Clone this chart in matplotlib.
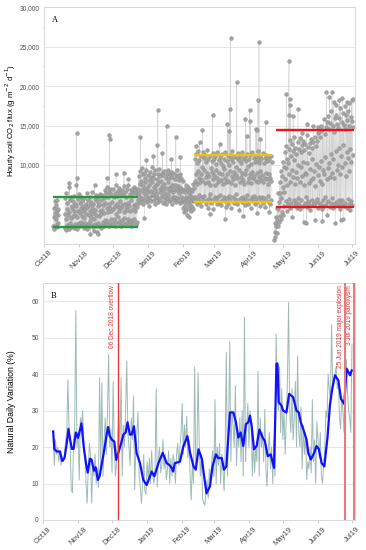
import numpy as np
import matplotlib
matplotlib.use('Agg')
import matplotlib.pyplot as plt
import matplotlib.dates as mdates

plt.rcParams['font.family'] = ['Liberation Sans', 'DejaVu Sans']

# day numbers below count from 1 Oct 2018
origin = np.datetime64('2018-10-01')
month_ticks = ['2018-10-01', '2018-11-01', '2018-12-01', '2019-01-01', '2019-02-01',
               '2019-03-01', '2019-04-01', '2019-05-01', '2019-06-01', '2019-07-01']
month_labels = ['Oct18', 'Nov18', 'Dec18', 'Jan19', 'Feb19', 'Mar19', 'Apr19',
                'May19', 'Jun19', 'Jul19']

# ---- panel A: hourly soil CO2 flux, daily low / mid / high readings (x1000 g m-2 d-1)
run1_first = 8
run1_lo = [2.3, 1.9, 2.4, 2.1, 2.6]
run1_mid = [3.4, 3.9, 3.1, 4.2, 3.6]
run1_hi = [4.6, 5.4, 4.9, 5.6, 4.4]

run2_first = 18
run2_lo = ([2.0, 1.8, 2.4, 2.2, 1.9, 2.6, 2.1, 2.3, 2.0, 2.5, 2.2, 1.9, 2.4]
           + [2.6, 2.2, 2.8, 2.4, 2.0, 2.7, 2.3, 1.9, 2.5, 2.2,
              2.9, 2.4, 2.1, 1.6, 2.5, 2.2, 1.5, 2.6, 2.3, 2.0]
           + [2.4, 2.8, 2.2, 3.0, 2.5, 2.9, 2.3, 2.7, 3.2, 2.4,
              2.6, 3.1, 2.2, 2.8, 3.4, 2.5, 2.9, 2.3, 3.0, 2.6,
              3.3, 2.4, 2.8, 3.1, 2.5, 2.9, 2.2, 3.0, 2.7, 3.2, 2.4, 2.8]
           + [5.6, 5.2, 6.0, 5.4, 5.8, 5.0, 5.5, 6.1, 5.3, 5.7,
              4.8, 5.9, 5.4, 6.2, 5.6, 5.1, 5.8, 6.0, 5.3, 5.7,
              5.5, 6.1, 5.2, 5.9, 5.6, 5.0, 5.8, 6.2, 5.4, 5.7,
              5.1, 5.9, 5.5, 6.0, 5.3, 5.8, 5.6, 5.2, 5.9, 5.4]
           + [4.6, 4.0, 4.8, 4.3, 3.6, 4.5, 4.9, 4.2, 4.7, 4.4]
           + [5.4, 6.0, 5.0, 5.7, 6.2, 5.3, 4.8, 5.9, 5.5, 6.1,
              5.1, 5.6, 4.6, 5.8, 6.3, 5.2, 5.5, 4.4, 6.0, 5.7,
              5.0, 5.9, 5.3, 6.2, 4.9, 5.6, 6.0, 5.4, 4.7, 5.8,
              5.1, 6.1, 5.5, 4.5, 5.9, 5.2, 5.7, 6.3, 5.0, 5.6,
              4.3, 5.8, 5.3, 6.0, 5.5, 4.9, 5.7, 6.2, 5.1, 5.6,
              4.6, 5.9, 5.4, 6.1, 5.0, 5.7, 5.3, 6.0, 4.8, 5.5,
              5.9, 5.2, 5.8, 4.7, 5.6, 6.1, 5.3, 5.0, 5.6])
run2_mid = ([3.8, 3.2, 4.4, 3.6, 4.0, 3.3, 4.6, 3.5, 4.1, 3.7, 4.8, 3.4, 4.2]
            + [3.9, 4.5, 3.5, 4.1, 3.3, 4.4, 3.8, 4.7, 3.6, 4.2,
               3.4, 4.6, 3.9, 3.2, 4.3, 3.7, 4.8, 3.5, 4.1, 3.8]
            + [4.3, 4.9, 3.9, 5.2, 4.5, 4.0, 5.0, 4.6, 4.2, 5.3,
               4.4, 4.8, 3.8, 5.1, 4.7, 4.1, 5.4, 4.5, 4.9, 4.0,
               5.0, 4.6, 4.3, 5.2, 4.8, 4.1, 5.5, 4.4, 4.9, 4.2, 5.1, 4.7]
            + [7.0, 6.5, 7.6, 6.8, 7.3, 6.4, 7.8, 6.9, 7.1, 6.6,
               7.5, 6.7, 7.9, 6.3, 7.2, 6.8, 7.4, 6.5, 7.7, 7.0,
               6.6, 7.3, 6.9, 7.6, 6.4, 7.1, 7.8, 6.7, 7.2, 6.9,
               7.5, 6.6, 7.0, 7.4, 6.8, 7.3, 6.5, 7.1, 6.9, 6.7]
            + [5.7, 5.3, 6.0, 5.5, 5.2, 5.8, 6.1, 5.4, 5.9, 5.6]
            + [8.0, 8.8, 7.6, 9.2, 8.3, 7.8, 8.9, 8.1, 9.4, 7.7,
               8.5, 9.0, 7.9, 8.6, 7.4, 9.1, 8.2, 8.7, 7.5, 9.3,
               8.4, 7.8, 9.0, 8.1, 8.8, 7.6, 9.5, 8.3, 7.9, 8.9,
               8.0, 9.2, 7.7, 8.6, 8.2, 9.1, 7.5, 8.7, 8.4, 9.4,
               7.8, 8.5, 9.0, 8.1, 7.6, 8.8, 9.3, 7.9, 8.4, 8.9,
               7.7, 9.1, 8.3, 8.6, 8.0, 9.0, 7.8, 8.5, 9.2, 8.1,
               8.7, 7.9, 8.4, 9.0, 8.2, 7.6, 8.8, 8.3, 8.0])
run2_hi = ([5.8, 6.4, 5.2, 7.2, 5.6, 6.0, 4.8, 5.4, 6.1, 5.0, 7.4, 5.7, 6.3]
           + [5.2, 6.0, 5.4, 4.8, 5.8, 5.1, 6.4, 5.5, 4.9, 5.9,
              5.3, 6.6, 5.0, 5.7, 6.2, 5.4, 5.9, 5.0, 6.3, 5.6]
           + [6.2, 5.8, 6.8, 6.4, 7.2, 6.0, 6.6, 7.0, 6.3, 6.9,
              5.9, 6.5, 7.4, 6.1, 6.7, 7.1, 6.4, 6.8, 6.2, 7.3,
              6.6, 6.0, 6.9, 7.5, 6.3, 6.8, 7.0, 6.4, 7.2, 6.6, 6.9, 6.3]
           + [8.6, 9.2, 8.0, 9.6, 8.8, 9.0, 8.3, 9.4, 8.7, 8.1,
              9.1, 8.5, 9.7, 8.4, 8.9, 9.3, 8.2, 8.8, 9.5, 8.6,
              8.0, 9.0, 8.7, 9.2, 8.4, 8.9, 9.4, 8.3, 8.8, 9.1,
              8.5, 9.0, 8.2, 8.7, 9.3, 8.6, 8.1, 8.9, 8.4, 8.0]
           + [7.0, 6.6, 7.4, 6.8, 7.2, 6.5, 7.0, 6.7, 7.6, 7.1]
           + [10.8, 11.4, 10.2, 11.8, 10.6, 11.2, 9.8, 11.6, 10.9, 11.3,
              10.4, 11.9, 10.7, 11.1, 9.6, 10.5, 11.5, 10.8, 11.2, 10.1,
              11.7, 10.6, 11.0, 10.3, 11.4, 9.9, 10.8, 11.6, 10.5, 11.1,
              10.0, 11.3, 10.7, 11.8, 10.4, 11.0, 9.7, 10.9, 11.5, 10.6,
              11.2, 10.2, 11.7, 10.8, 11.0, 10.5, 11.4, 9.9, 10.7, 11.3,
              10.1, 11.6, 10.9, 10.4, 11.1, 10.6, 11.8, 10.3, 11.0, 10.8,
              11.5, 10.2, 10.9, 11.3, 10.5, 11.0, 10.7, 11.2, 10.4])

run3_first = 204
run3_lo = [0.5, 0.9, 1.4, 2.2, 2.8, 3.5, 3.2, 4.0, 3.6,
           4.8, 5.4, 4.2, 5.0, 5.7, 4.5, 5.2, 3.4, 5.6, 4.9,
           5.3, 4.6, 5.8, 5.1, 4.4, 5.5, 4.8, 2.8, 5.2, 5.9,
           4.7, 5.4, 5.0, 4.3, 5.6, 5.1, 4.9, 3.0, 5.3, 5.7,
           4.6, 5.2, 5.0, 4.4, 5.5, 4.8, 5.9, 5.1, 3.6, 5.4,
           4.7, 5.2, 5.8, 4.5, 5.0, 2.6, 5.3, 4.9, 5.6, 4.4,
           5.1, 5.5, 3.2, 4.8, 5.2, 4.6, 5.7, 5.0, 4.3, 5.4, 4.9]
run3_mid = [1.5, 2.2, 3.0, 4.4, 5.3, 6.4, 5.8, 7.2, 6.6,
            8.2, 9.6, 7.4, 10.2, 8.8, 7.9, 9.4, 8.5, 10.6, 7.6,
            9.1, 8.3, 10.0, 7.8, 9.7, 8.6, 10.4, 7.5, 9.0, 8.9,
            10.3, 7.7, 9.5, 8.1, 10.8, 8.4, 9.2, 7.3, 10.1, 8.7,
            9.8, 8.0, 10.5, 7.6, 9.3, 8.8, 11.0, 8.2, 9.6, 10.2,
            8.5, 11.4, 9.0, 10.7, 8.3, 11.8, 9.4, 10.0, 12.2, 8.9,
            11.1, 9.7, 12.5, 10.3, 8.6, 11.6, 10.9, 9.2, 12.0, 10.4, 11.3]
run3_hi = [2.6, 3.4, 4.6, 6.5, 7.8, 9.2, 8.6, 10.4, 9.8,
           11.6, 12.4, 10.8, 12.0, 13.2, 11.2, 12.6, 11.8, 13.6, 12.2,
           11.4, 12.9, 12.0, 13.4, 11.6, 12.5, 13.0, 11.9, 12.7, 13.8,
           12.3, 11.5, 12.8, 13.3, 12.1, 12.9, 13.6, 12.4, 13.1, 14.0,
           14.2, 13.6, 15.0, 14.4, 15.8, 13.9, 14.8, 15.5, 16.2, 14.6,
           15.3, 16.8, 15.0, 14.2, 15.9, 16.4, 15.2, 14.7, 16.0, 17.2,
           15.4, 16.6, 15.1, 14.5, 16.3, 15.7, 16.9, 15.0, 16.1, 15.6, 14.8]

# isolated high / low hourly readings
peak_day = [22.6, 28.9, 29.3, 44, 55, 57.9, 58.1, 63, 70, 74, 40, 47,
            85.5, 88, 90, 96, 100, 100.3, 104, 108, 112, 116, 120,
            128, 134, 137, 140.5, 146, 149.4, 155, 160, 162.5, 163, 164.6, 165.5,
            170, 176, 178.6, 179, 182.2, 182.8, 187, 188, 188.5, 189.7, 190.6,
            191, 196.5, 199,
            214.8, 216, 217.2, 217.8, 218.2, 220, 225.2, 228, 232, 232.5, 238,
            242, 246, 250.3, 252, 255.3, 256, 258, 261, 262, 264.5, 266, 268.5,
            270.5, 272, 273]
peak_val = [7.7, 14.0, 8.3, 7.5, 8.4, 13.8, 13.3, 8.9, 9.0, 8.2, 1.2, 1.3,
            13.5, 3.3, 10.6, 11.2, 17.0, 12.5, 11.5, 15.0, 10.8, 13.5, 11.0,
            3.4, 12.4, 12.9, 14.4, 3.8, 16.35, 12.6, 3.2, 15.2, 14.3, 17.15, 26.15,
            20.5, 3.5, 15.85, 13.7, 17.0, 15.6, 14.6, 3.9, 14.4, 18.3, 25.65,
            13.3, 15.4, 4.0,
            19.05, 16.3, 23.24, 18.4, 17.56, 16.2, 17.1, 14.0, 15.2, 2.6, 15.0,
            14.8, 2.9, 19.3, 18.6, 19.2, 18.0, 17.6, 18.2, 3.0, 18.5, 17.5, 18.0,
            17.8, 18.3, 18.4]

# period bands drawn over panel A
band_start = [8, 133, 206]
band_end = [83, 202, 274.6]
band_low = [2.1, 5.34, 4.71]
band_high = [5.9, 11.3, 14.44]
band_color = ['#1f9d3c', '#f4c20d', '#e8161b']

# ---- panel B: natural daily variation (%), daily values from day 9
nat_first = 9
nat_var = [24, 15, 22, 18, 20, 16, 19, 15, 17, 16,
           18, 22, 24, 38.5, 25, 20, 8.3, 7.5, 21, 26,
           57.4, 20, 24, 11, 28, 26, 30, 22, 18, 10,
           4.6, 14, 21, 18, 4.6, 15, 12, 18, 10, 14,
           9, 39, 14, 37.6, 12, 22, 28, 18, 30, 45.4,
           20, 25, 13, 38, 20, 12, 16, 22, 30, 20,
           39, 12, 26, 20, 30, 43.6, 24, 20, 15, 28,
           22, 34, 8.3, 20, 24, 29.5, 12, 9, 4.6, 10,
           18, 8, 7, 16, 11, 17, 10, 19, 12, 10,
           14, 36, 9, 17, 20, 13, 15, 22, 14, 18,
           11, 14, 19, 10, 17, 12, 18, 16, 10, 18,
           21, 15, 20, 24, 32, 18, 26, 20, 28.5, 17,
           22, 12, 5.5, 16, 10, 42, 14, 18, 40.4, 22,
           12, 18, 6, 4.6, 4.1, 8, 11, 6, 14, 10,
           16, 19, 12, 33, 10, 20, 15, 21, 10, 18,
           14, 8, 20, 46, 12, 25, 48.9, 16, 30, 26,
           20, 36.9, 15, 25, 20, 28, 16, 30, 12, 55.6,
           16, 25, 32, 20, 30, 26, 12, 22, 13, 20,
           16, 40.8, 12, 28, 20, 24, 16, 30.3, 14, 9.2,
           19, 24, 14, 20, 10, 22, 12, 51, 36, 30,
           42, 24, 36, 22, 30, 18, 28, 38, 59.6, 30,
           24, 36, 22, 28, 38, 20, 45, 24, 20, 31,
           14, 26, 18, 24, 11, 16, 14, 20, 13, 33,
           16, 22, 10, 27, 22, 17, 24, 12, 10, 15,
           20, 30, 28, 40, 36, 32, 53.5, 36, 38, 40,
           42, 36, 38, 28, 25, 34, 30, 24, 38, 44,
           36, 30, 28, 24, 48]

# running mean (blue)
avg_day = [9, 10, 12, 15, 17, 19, 21, 22.5, 24, 25.5, 27, 29, 31, 34, 36, 38, 39.5,
           41.5, 43, 45, 46.5, 48.5, 50, 52, 54, 56, 57.5, 59, 61, 63, 64.7, 66.5,
           69, 71, 73, 74.7, 76.8, 78.5, 80.4, 82.7, 85.7, 88.6, 91.6, 94, 96, 98.4,
           102, 105.8, 109.3, 112, 113.8, 115, 116.5, 121, 124, 127.6, 130, 133, 135,
           137.4, 139, 140.5, 141.6, 144.5, 147.5, 149.8, 152.8, 154.8, 158, 159.9,
           162, 165.2, 168.2, 170.5, 172.6, 174.6, 177, 179.3, 181.4, 182.9, 184.4,
           186.4, 188.8, 191.2, 194.1, 196, 198.6, 201.2, 204.2, 206.3, 207.2, 208.3,
           210.7, 212.2, 215.1, 217.5, 221, 224, 226, 227.8, 230, 232.9, 234.4,
           236.7, 239.6, 241.7, 243.8, 246.2, 248.6, 251.5, 253.5, 255.6, 258, 261,
           263.3, 266.2, 268.3, 271.3, 272.8]
avg_val = [24.3, 19.5, 18.8, 18.8, 16.2, 17, 21, 25, 22, 19.5, 19.5, 24, 22.5, 26.5,
           20, 15.5, 13, 16.8, 16.5, 13.5, 14.5, 11, 12, 15.5, 19, 23, 25.5, 23, 22,
           21.5, 16.5, 18.3, 21, 23.4, 24, 26.8, 23.4, 23.5, 25.7, 18.4, 15.6, 11,
           9.6, 11.5, 13.3, 12, 15.6, 18.4, 15.6, 15, 14.2, 13.3, 15.6, 16, 20.2, 23,
           18.4, 14.7, 13.8, 19.4, 18, 16.6, 13.8, 7.3, 9.2, 14.7, 18, 17, 17, 13.8,
           14.7, 29.5, 29.5, 26.8, 22.6, 24, 20.3, 26.3, 26.8, 28.6, 25.8, 19.4,
           20.3, 24.8, 22.6, 21.7, 17.5, 18, 14.3, 42.9, 42.9, 32.3, 31.4, 30, 29.5,
           34.6, 33.7, 30, 29.5, 26.8, 24.9, 22, 18.4, 16.6, 18.4, 20.3, 19.4, 15.6,
           14.7, 23, 31.4, 36, 39.7, 38.3, 33.2, 31.8, 41.5, 39.7, 41]

event_dates = ['2018-12-06', '2019-06-25', '2019-07-03']
event_labels = ['06 Dec 2018 overflow', '25 Jun 2019 major explosion', '3 Jul 2019 paroxysm']
event_color = ['#e8383b', '#e77a7a', '#e77a7a']
event_lw = [1.0, 1.5, 1.5]


def flux_run(first, lo, mid, hi):
    t, v = [], []
    for i in range(len(lo)):
        d = first + i
        t += [d + 0.2, d + 0.5, d + 0.8]
        v += [lo[i], mid[i], hi[i]]
    for pday, pval in zip(peak_day, peak_val):
        if first <= pday < first + len(lo):
            t.append(pday + 0.85 if pday == int(pday) else pday)
            v.append(pval)
    order = np.argsort(t)
    return np.array(t)[order], np.array(v)[order] * 1000


day0 = mdates.date2num(origin)
xmin, xmax = day0, day0 + 275.7
tick_pos = [mdates.date2num(np.datetime64(m)) for m in month_ticks]
W, H = 366, 550
fig = plt.figure(figsize=(W / 100, H / 100), dpi=100)

axA = fig.add_axes([44 / W, 1 - 243.8 / H, (355 - 44) / W, (243.8 - 7.3) / H])
axB = fig.add_axes([43 / W, 1 - 520 / H, (355 - 43) / W, (520 - 283) / H])

for run in [(run1_first, run1_lo, run1_mid, run1_hi),
            (run2_first, run2_lo, run2_mid, run2_hi),
            (run3_first, run3_lo, run3_mid, run3_hi)]:
    t, v = flux_run(*run)
    axA.plot(day0 + t, v, '-o', color='#d3d3d3', lw=0.4, ms=2.7,
             mfc='#a3a3a3', mec='#888888', mew=0.3, zorder=2)

for s, e, lo, hi, c in zip(band_start, band_end, band_low, band_high, band_color):
    axA.hlines([lo * 1000, hi * 1000], day0 + s, day0 + e, colors=c, lw=1.7, zorder=3)

axA.set_ylim(0, 30000)
axA.set_yticks([10000, 15000, 20000, 25000, 30000])
axA.set_yticklabels(['10,000', '15,000', '20,000', '25,000', '30,000'])
axA.set_yticks([12500, 17500, 22500, 27500], minor=True)
axA.set_ylabel('Hourly soil CO$_2$ flux (g m$^{-2}$ d$^{-1}$)', fontsize=5.6)
axA.yaxis.set_label_coords(-0.082, 0.52)
axA.text(0.025, 0.945, 'A', transform=axA.transAxes, fontsize=6,
         family='Liberation Serif', va='center')

axB.plot(day0 + nat_first + np.arange(len(nat_var)), nat_var, color='#9dbab6', lw=0.7, zorder=2)
axB.plot(day0 + np.array(avg_day), avg_val, color='#1010ff', lw=1.6, zorder=3)
for d, lab, c, lw in zip(event_dates, event_labels, event_color, event_lw):
    xd = mdates.date2num(np.datetime64(d))
    axB.axvline(xd, color=c, lw=lw, zorder=4)
    axB.text(xd - 1.3, 64.3, lab, rotation=90, ha='right', va='top', fontsize=4.7,
             color='#d9363a')
axB.set_ylim(0, 65)
axB.set_yticks(range(0, 61, 10))
axB.set_ylabel('Natural Daily Variation (%)', fontsize=6.3)
axB.yaxis.set_label_coords(-0.088, 0.5)
axB.text(0.025, 0.945, 'B', transform=axB.transAxes, fontsize=6,
         family='Liberation Serif', va='center')

for ax in (axA, axB):
    ax.set_xlim(xmin, xmax)
    ax.set_xticks(tick_pos)
    ax.set_xticklabels(month_labels, rotation=45, ha='center', fontsize=5.5, color='#444444')
    ax.grid(axis='y', color='#e3e3e3', lw=0.6, zorder=0)
    ax.set_axisbelow(True)
    for sp in ax.spines.values():
        sp.set_color('#d8d8d8')
        sp.set_linewidth(0.7)
    ax.tick_params(axis='x', length=2.5, width=0.5, color='#bbbbbb', pad=1.5)
    ax.tick_params(axis='y', which='major', length=0, labelsize=4.8, labelcolor='#555555', pad=3)
    ax.tick_params(axis='y', which='minor', length=1.5, width=0.4, color='#cccccc')

fig.savefig('out.png', dpi=100)
